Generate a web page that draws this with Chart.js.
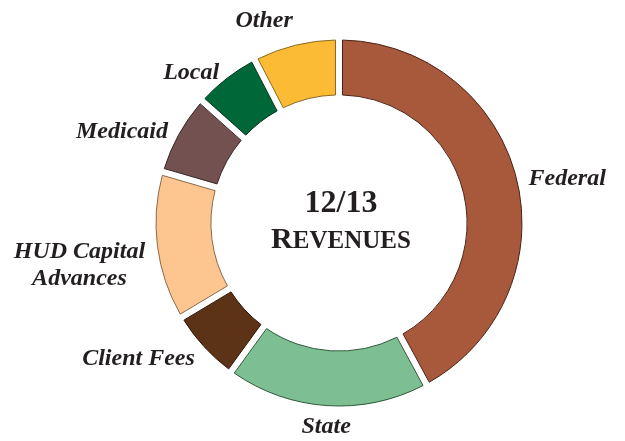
<!DOCTYPE html>
<html>
<head>
<meta charset="utf-8">
<script src="https://cdn.jsdelivr.net/npm/chart.js@4/dist/chart.umd.min.js"></script>
<style>
  html, body { margin: 0; padding: 0; background: #fff; }
  #wrap { width: 625px; height: 441px; }
</style>
</head>
<body>
<div id="wrap"><canvas id="revenues-chart" width="625" height="441"></canvas></div>
<script>
const categories = ['Federal', 'State', 'Client Fees', ['HUD Capital', 'Advances'], 'Medicaid', 'Local', 'Other'];
const shares = [42.1, 17.9, 6.4, 13.1, 7.1, 5.8, 7.6];
const fills = ['#A8583B', '#7DBF92', '#5C3317', '#FDC690', '#735150', '#006838', '#FBBB35'];
const edges = ['#4a2418', '#2f5a3a', '#2e180a', '#8a6a4a', '#3a2828', '#00331a', '#8a6a20'];
const centerTitle = '12/13';
const centerSub = 'Revenues';

const textColor = '#231f20';
const labelFont = 'italic bold 24px "Liberation Serif", "Times New Roman", serif';
const gap = 7;

// thin dark outline round the visible part of each slice
const sliceOutline = {
  id: 'sliceOutline',
  afterDatasetsDraw(chart) {
    const ctx = chart.ctx;
    const g = gap / 2;
    ctx.save();
    ctx.lineWidth = 1;
    chart.getDatasetMeta(0).data.forEach((arc, i) => {
      const p = arc.getProps(['x', 'y', 'startAngle', 'endAngle', 'outerRadius', 'innerRadius']);
      const ro = p.outerRadius - g, ri = p.innerRadius + g;
      const ao = Math.asin(g / ro), ai = Math.asin(g / ri);
      ctx.beginPath();
      ctx.arc(p.x, p.y, ro, p.startAngle + ao, p.endAngle - ao);
      ctx.arc(p.x, p.y, ri, p.endAngle - ai, p.startAngle + ai, true);
      ctx.closePath();
      ctx.strokeStyle = edges[i];
      ctx.stroke();
    });
    ctx.restore();
  }
};

const ringLabels = {
  id: 'ringLabels',
  afterDatasetsDraw(chart) {
    const ctx = chart.ctx;
    const meta = chart.getDatasetMeta(0);
    ctx.save();
    ctx.fillStyle = textColor;
    ctx.font = labelFont;
    meta.data.forEach((arc, i) => {
      const p = arc.getProps(['x', 'y', 'startAngle', 'endAngle', 'outerRadius']);
      const mid = (p.startAngle + p.endAngle) / 2;
      const r = p.outerRadius + 9;
      const ax = p.x + Math.cos(mid) * r;
      const ay = p.y + Math.sin(mid) * r;
      const lines = Array.isArray(categories[i]) ? categories[i] : [categories[i]];
      const lh = 27;
      const w = Math.max(...lines.map(l => ctx.measureText(l).width));
      let left;
      if (ax < p.x - 30) left = ax - w;
      else if (ax > p.x + 30) left = ax;
      else left = ax - w / 2;
      const blockH = lh * lines.length;
      let top;
      const s = Math.sin(mid);
      if (s < -0.9) top = ay - blockH + 1;
      else if (s > 0.9) top = ay - 5;
      else top = ay - lh / 2 + 4;
      ctx.textAlign = 'center';
      ctx.textBaseline = 'middle';
      lines.forEach((l, k) => {
        ctx.fillText(l, left + w / 2, top + lh / 2 + k * lh);
      });
    });
    ctx.restore();
  }
};

const centerText = {
  id: 'centerText',
  afterDatasetsDraw(chart) {
    const ctx = chart.ctx;
    const arc = chart.getDatasetMeta(0).data[0];
    const cx = arc.x + 2, cy = arc.y;
    ctx.save();
    ctx.fillStyle = textColor;
    ctx.textBaseline = 'alphabetic';
    ctx.textAlign = 'center';
    ctx.font = 'bold 32px "Liberation Serif", "Times New Roman", serif';
    ctx.fillText(centerTitle, cx, cy - 11);
    // small caps
    const big = 'bold 30px "Liberation Serif", "Times New Roman", serif';
    const small = 'bold 25px "Liberation Serif", "Times New Roman", serif';
    const first = centerSub[0].toUpperCase();
    const rest = centerSub.slice(1).toUpperCase();
    ctx.font = big;
    const w1 = ctx.measureText(first).width;
    ctx.font = small;
    const w2 = ctx.measureText(rest).width;
    const x = cx - (w1 + w2) / 2;
    ctx.textAlign = 'left';
    ctx.font = big;
    ctx.fillText(first, x, cy + 25);
    ctx.font = small;
    ctx.fillText(rest, x + w1, cy + 25);
    ctx.restore();
  }
};

document.addEventListener('DOMContentLoaded', () => {
  const ctx = document.getElementById('revenues-chart').getContext('2d');
  new Chart(ctx, {
    type: 'doughnut',
    data: {
      labels: categories.map(c => Array.isArray(c) ? c.join(' ') : c),
      datasets: [{
        data: shares,
        backgroundColor: fills,
        borderColor: '#ffffff',
        borderWidth: gap,
        borderAlign: 'center',
        borderJoinStyle: 'miter'
      }]
    },
    options: {
      responsive: false,
      animation: false,
      radius: 186.5,
      cutout: '66.8%',
      layout: { padding: { left: 53, right: 0, top: 5, bottom: 0 } },
      plugins: {
        legend: { display: false },
        tooltip: { enabled: false }
      }
    },
    plugins: [sliceOutline, ringLabels, centerText]
  });
});
</script>
</body>
</html>
